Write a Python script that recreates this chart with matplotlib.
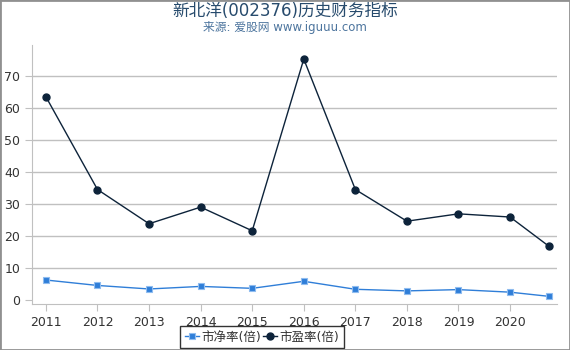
import matplotlib
matplotlib.use("Agg")
import matplotlib.pyplot as plt
from matplotlib.patches import Rectangle

plt.rcParams['font.family'] = ['DejaVu Sans', 'Noto Sans CJK SC']

# ------------------------
# Данные
# ------------------------
years = [2011, 2012, 2013, 2014, 2015, 2016, 2017, 2018, 2019, 2020, 2020.75]
tick_years = [2011, 2012, 2013, 2014, 2015, 2016, 2017, 2018, 2019, 2020]
pb = [6.2, 4.5, 3.4, 4.2, 3.6, 5.8, 3.3, 2.8, 3.2, 2.4, 1.1]
pe = [63.5, 34.5, 23.8, 29.0, 21.6, 75.3, 34.5, 24.6, 26.9, 25.9, 16.8]
y_ticks = [0, 10, 20, 30, 40, 50, 60, 70]

title = "新北洋(002376)历史财务指标"
subtitle = "来源: 爱股网 www.iguuu.com"

# ------------------------
# График
# ------------------------
fig = plt.figure(figsize=(5.7, 3.5), dpi=100)
ax = fig.add_axes([32 / 570, 1 - 304 / 350, 525 / 570, 259 / 350])

ax.plot(years, pb, color="#2f7ed8", lw=1, marker="s", ms=5,
        markeredgecolor="#8fbcef", markeredgewidth=0.8, label="市净率(倍)", zorder=3)
ax.plot(years, pe, color="#0d233a", lw=1, marker="o", ms=5,
        markeredgecolor="#0d233a", label="市盈率(倍)", zorder=3)

ax.set_xlim(2010.73, 2020.91)
ax.set_ylim(-1.3, 79.7)
ax.set_xticks(tick_years)
ax.set_xticklabels([str(y) for y in tick_years])
ax.set_yticks(y_ticks)

for y in y_ticks[1:]:
    ax.axhline(y, color="#c0c0c0", lw=1, zorder=1)

for s in ["top", "right"]:
    ax.spines[s].set_visible(False)
ax.spines["left"].set_color("#c0c0c0")
ax.spines["bottom"].set_color("#c0c0c0")

ax.tick_params(axis="x", colors="#c0c0c0", labelcolor="#333333", labelsize=9,
               length=5, direction="out")
ax.tick_params(axis="y", colors="#c0c0c0", labelcolor="#333333", labelsize=9,
               length=5, direction="out")

fig.text(0.5, 1 - 11 / 350, title, ha="center", va="center",
         fontsize=12, color="#274b6d")
fig.text(0.5, 1 - 28 / 350, subtitle, ha="center", va="center",
         fontsize=8.5, color="#4d759e")

leg = ax.legend(loc="center", bbox_to_anchor=(262 / 570, 1 - 337 / 350),
                bbox_transform=fig.transFigure, ncol=2, fontsize=9,
                frameon=True, fancybox=False, handlelength=1.1,
                handletextpad=0.2, columnspacing=0.2, borderpad=0.35,
                borderaxespad=0)
leg.get_frame().set_edgecolor("black")
leg.get_frame().set_linewidth(1)
for t in leg.get_texts():
    t.set_color("#333333")

fig.patches.append(Rectangle((0, 0), 1, 1, transform=fig.transFigure,
                             fill=False, edgecolor="#909090", lw=2))

fig.savefig("out.png", dpi=100)
